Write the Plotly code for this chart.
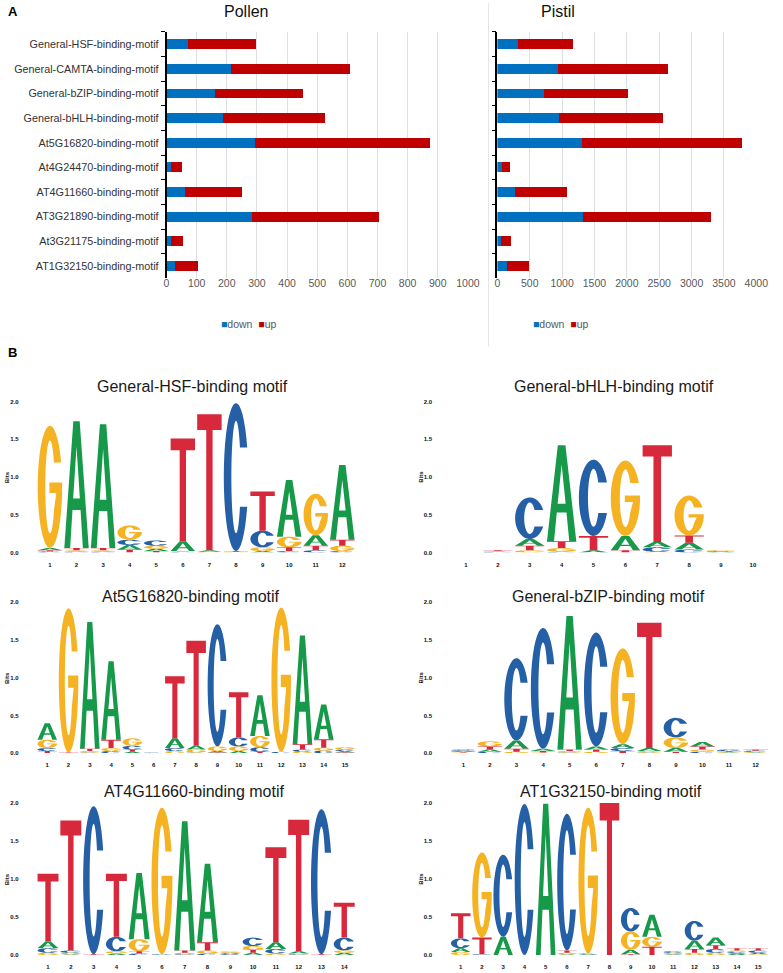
import math
import plotly.graph_objects as go

W, H = 783, 973
FONT = "Liberation Sans, Arial, Helvetica, sans-serif"
BLUE, RED = "#0070C0", "#C00000"
GRID = "#DCDFE6"
LOGO_COLORS = {"A": "#17994A", "C": "#2560A6", "G": "#F5B324", "T": "#D7283C"}

# ---------------- Panel A data ----------------
motifs = ["General-HSF-binding-motif", "General-CAMTA-binding-motif", "General-bZIP-binding-motif",
          "General-bHLH-binding-motif", "At5G16820-binding-motif", "At4G24470-binding-motif",
          "AT4G11660-binding-motif", "AT3G21890-binding-motif", "At3G21175-binding-motif",
          "AT1G32150-binding-motif"]
pollen_down = [72, 215, 162, 188, 293, 16, 61, 285, 15, 29]
pollen_up = [225, 394, 290, 337, 582, 37, 189, 421, 39, 75]
pistil_down = [323, 944, 722, 960, 1308, 66, 278, 1323, 56, 146]
pistil_up = [839, 1697, 1298, 1596, 2465, 131, 793, 1980, 161, 339]
pollen_ticks = list(range(0, 1001, 100))
pistil_ticks = list(range(0, 4001, 500))

# ---------------- Panel B data (bits per base per position) ----------------
hsf_A = [.03, 1.68, 1.64, .06, .03, .13, .02, 0, .02, .75, .14, .99]
hsf_C = [.015, .01, .01, .07, .07, .01, 0, 1.96, .22, .02, .03, .02]
hsf_G = [1.62, .02, .02, .19, .04, .01, .01, .01, .05, .14, .55, .07]
hsf_T = [.015, .03, .03, .04, .02, 1.36, 1.80, .01, .52, .05, .06, .08]

bhlh_A = [0, 0, .09, 1.27, .03, .19, .07, .09, .01, 0]
bhlh_C = [0, .01, .55, .01, 1.01, 0, .06, .04, .01, 0]
bhlh_G = [0, .01, .03, .05, 0, 1.0, .01, .53, .01, 0]
bhlh_T = [0, .01, .06, .09, .19, .03, 1.28, .095, 0, 0]

at5_A = [.22, 0, 1.68, 1.04, .02, 0, .13, .05, .02, .03, .54, 0, 1.44, .46, .02]
at5_C = [.04, 0, .01, .03, .05, .01, .04, .01, 1.62, .12, .06, .02, .03, .035, .02]
at5_G = [.11, 1.91, .02, .04, .10, 0, .03, .04, .06, .06, .15, 1.91, .02, .04, .03]
at5_T = [.03, .01, .03, .11, .03, 0, .82, 1.39, .01, .60, .02, 0, .07, .11, .01]

bzip_A = [.015, .03, .11, .03, 1.77, .04, .05, .04, .05, .06, .01, .01]
bzip_C = [.015, .02, 1.09, 1.60, .01, 1.51, .04, .01, .26, .02, .02, .015]
bzip_G = [.01, .07, .02, .01, .02, .02, 1.27, .02, .14, .03, .01, .01]
bzip_T = [.01, .04, .04, .02, .02, .03, .03, 1.66, .02, .04, .01, .015]

at4_A = [.09, .01, 0, .02, .87, 0, 1.70, 1.03, .015, .03, .09, .03, 0, .03]
at4_C = [.06, .03, 1.95, .19, .02, .01, .01, .02, .01, .11, .06, .01, 1.91, .17]
at4_G = [.03, .02, 0, .03, .16, 1.93, .02, .04, .02, .05, .02, .01, 0, .03]
at4_T = [.89, 1.71, .01, .83, .03, 0, .03, .11, .005, .04, 1.25, 1.73, .01, .46]

at1_A = [.05, 0, .24, 0, 1.99, .01, .01, 0, .06, .29, .01, .11, .10, .02, .02]
at1_C = [.13, .01, 1.08, 1.99, 0, 1.80, .01, 0, .31, 0, .02, .26, .05, .02, .03]
at1_G = [.04, 1.12, 0, 0, 0, .02, 1.92, 0, .24, .13, .015, .03, .03, .02, .01]
at1_T = [.33, .22, 0, 0, 0, .03, 0, 2.0, .01, .11, .005, .05, .05, .03, .03]

logo_titles = ["General-HSF-binding motif", "General-bHLH-binding motif",
               "At5G16820-binding motif", "General-bZIP-binding motif",
               "AT4G11660-binding motif", "AT1G32150-binding motif"]
logo_data = [(hsf_A, hsf_C, hsf_G, hsf_T), (bhlh_A, bhlh_C, bhlh_G, bhlh_T),
             (at5_A, at5_C, at5_G, at5_T), (bzip_A, bzip_C, bzip_G, bzip_T),
             (at4_A, at4_C, at4_G, at4_T), (at1_A, at1_C, at1_G, at1_T)]
bits_ticks = [0, 0.5, 1.0, 1.5, 2.0]


# ---------------- helpers ----------------
def fx(p):
    return p / W


def fy(p):
    return 1 - p / H


def arc(cx, cy, rx, ry, a0, a1, n=36):
    pts = []
    for i in range(n + 1):
        t = math.radians(a0 + (a1 - a0) * i / n)
        pts.append((cx + rx * math.cos(t), cy + ry * math.sin(t)))
    return pts


# unit-square glyph outlines
RXI, RYI, TD = 0.19, 0.38, 0.20
AO = math.degrees(math.asin(TD / 0.5))
AI = math.degrees(math.asin(TD / RYI))
GLYPHS = {
    "T": [[(0, 1), (1, 1), (1, 0.885), (0.63, 0.885), (0.63, 0), (0.37, 0), (0.37, 0.885), (0, 0.885)]],
    "A": [[(0, 0), (0.37, 1), (0.63, 1), (1, 0), (0.76, 0), (0.665, 0.30), (0.335, 0.30), (0.24, 0)],
          [(0.364, 0.39), (0.5, 0.80), (0.636, 0.39)]],
    "C": [arc(0.5, 0.5, 0.5, 0.5, AO, 360 - AO) + arc(0.5, 0.5, RXI, RYI, 360 - AI, AI)],
    "G": [arc(0.5, 0.5, 0.5, 0.5, AO, 364) + [(0.48, 0.535), (0.48, 0.45), (0.76, 0.45)]
          + arc(0.5, 0.5, RXI, RYI, 330, AI)],
}

fig = go.Figure()

# ---------------- Panel A bars ----------------
for xa, ya, down, up in [("x", "y", pollen_down, pollen_up), ("x2", "y2", pistil_down, pistil_up)]:
    fig.add_trace(go.Bar(y=motifs, x=down, orientation="h", name="down", width=0.4,
                         marker=dict(color=BLUE, line=dict(width=0)), xaxis=xa, yaxis=ya,
                         showlegend=False, hoverinfo="skip"))
    fig.add_trace(go.Bar(y=motifs, x=up, orientation="h", name="up", width=0.4,
                         marker=dict(color=RED, line=dict(width=0)), xaxis=xa, yaxis=ya,
                         showlegend=False, hoverinfo="skip"))

bar_ydom = [fy(277), fy(29)]
tickfont_x = dict(size=10.5, color="#595959", family=FONT)
ycat = dict(domain=bar_ydom, type="category", categoryorder="array", categoryarray=motifs,
            autorange="reversed", tickson="boundaries", ticks="outside", ticklen=4,
            tickcolor="#000", tickwidth=1, showline=True, linecolor="#000", linewidth=1.5,
            showgrid=False, zeroline=False, fixedrange=True)
layout = dict(
    width=W, height=H, margin=dict(l=0, r=0, t=0, b=0),
    paper_bgcolor="white", plot_bgcolor="white", barmode="stack", showlegend=False,
    font=dict(family=FONT),
    xaxis=dict(domain=[fx(166.7), fx(474)], range=[0, 1000], tickvals=pollen_ticks,
               showgrid=True, gridcolor=GRID, gridwidth=1, zeroline=False, showline=False,
               ticks="", ticklabelstandoff=-3, tickfont=tickfont_x, anchor="y", fixedrange=True),
    yaxis=dict(ycat, anchor="x", ticklabelstandoff=4,
               tickfont=dict(size=10.8, color="#333333", family=FONT)),
    xaxis2=dict(domain=[fx(504), fx(768)], range=[0, 4000], tickvals=pistil_ticks,
                showgrid=True, gridcolor=GRID, gridwidth=1, zeroline=False, showline=False,
                ticks="", ticklabelstandoff=-3, tickfont=tickfont_x, anchor="y2", fixedrange=True),
    yaxis2=dict(ycat, anchor="x2", showticklabels=False),
)

annotations = [
    dict(x=fx(3), y=fy(9), text="<b>A</b>", font=dict(size=13, color="#000")),
    dict(x=fx(3), y=fy(352), text="<b>B</b>", font=dict(size=13, color="#000")),
    dict(x=fx(248), y=fy(9), text="Pollen", font=dict(size=16, color="#111"), xanchor="center"),
    dict(x=fx(566), y=fy(9), text="Pistil", font=dict(size=16, color="#111"), xanchor="center"),
]
for cx in (250, 568):
    annotations.append(dict(
        x=fx(cx), y=fy(323), xanchor="center",
        text=f"<span style='color:{BLUE}'>■</span>down  <span style='color:{RED}'>■</span>up",
        font=dict(size=10.5, color="#595959")))

shapes = [dict(type="line", xref="paper", yref="paper", x0=fx(495), x1=fx(495), y0=fy(0), y1=fy(346),
               line=dict(color="#E6E6E6", width=1))]

# ---------------- Panel B logos ----------------
cols = [(34.3, 359.5), (455.8, 780.8)]
rows = [(553, 401), (755, 603), (958, 805)]
title_pos = [(193, 385.5), (623, 385.5), (192, 597), (617, 597), (195, 793), (620, 793)]
LW = 0.92
for k, (title, data) in enumerate(zip(logo_titles, logo_data)):
    n = k + 3
    c, r = k % 2, k // 2
    l, rr = cols[c]
    base, top = rows[r]
    npos = len(data[0])
    layout[f"xaxis{n}"] = dict(domain=[fx(l), fx(rr)], range=[0.5, npos + 0.5],
                               tickvals=list(range(1, npos + 1)),
                               ticktext=[str(i) for i in range(1, npos + 1)],
                               showgrid=False, zeroline=False, showline=False, ticks="",
                               ticklabelstandoff=7,
                               tickfont=dict(size=6, family=FONT, weight="bold", color="#111"),
                               anchor=f"y{n}", fixedrange=True)
    layout[f"yaxis{n}"] = dict(domain=[fy(base), fy(top)], range=[0, 2.0], tickvals=bits_ticks,
                               ticktext=[f"{v:.1f}" for v in bits_ticks],
                               showgrid=False, zeroline=False, showline=False, ticks="",
                               ticklabelstandoff=17,
                               tickfont=dict(size=6, family=FONT, weight="bold", color="#111"),
                               anchor=f"x{n}", fixedrange=True)
    tx, ty = title_pos[k]
    annotations.append(dict(x=fx(tx), y=fy(ty), xanchor="center", yanchor="middle",
                            text=title, font=dict(size=16, color="#1a1a1a")))
    annotations.append(dict(x=fx(l - 30), y=fy((base + top) / 2), xanchor="center", yanchor="middle",
                            text="<b>Bits</b>", textangle=-90, font=dict(size=6, color="#111")))
    paths = {b: [] for b in "ACGT"}
    for i in range(npos):
        vals = sorted(zip("ACGT", [d[i] for d in data]), key=lambda t: t[1])
        y0 = 0.0
        for b, h in vals:
            if h <= 0.003:
                continue
            xl = (i + 1) - LW / 2
            for poly in GLYPHS[b]:
                pts = [(xl + u * LW, y0 + v * h) for u, v in poly]
                paths[b].append("M" + " L".join(f"{px:.4f},{py:.4f}" for px, py in pts) + " Z")
            y0 += h
    for b in "ACGT":
        if paths[b]:
            shapes.append(dict(type="path", xref=f"x{n}", yref=f"y{n}", path=" ".join(paths[b]),
                               fillcolor=LOGO_COLORS[b], line=dict(width=0), fillrule="evenodd",
                               layer="above"))

for a in annotations:
    a.setdefault("xref", "paper")
    a.setdefault("yref", "paper")
    a.setdefault("showarrow", False)
    a.setdefault("xanchor", "left")
    a.setdefault("yanchor", "middle")
layout["annotations"] = annotations
layout["shapes"] = shapes
fig.update_layout(**layout)
fig.write_html("out.html", config={"displayModeBar": False},
               post_script="document.body.style.margin='0';document.body.style.padding='0';"
                           "document.documentElement.style.overflow='hidden';")
